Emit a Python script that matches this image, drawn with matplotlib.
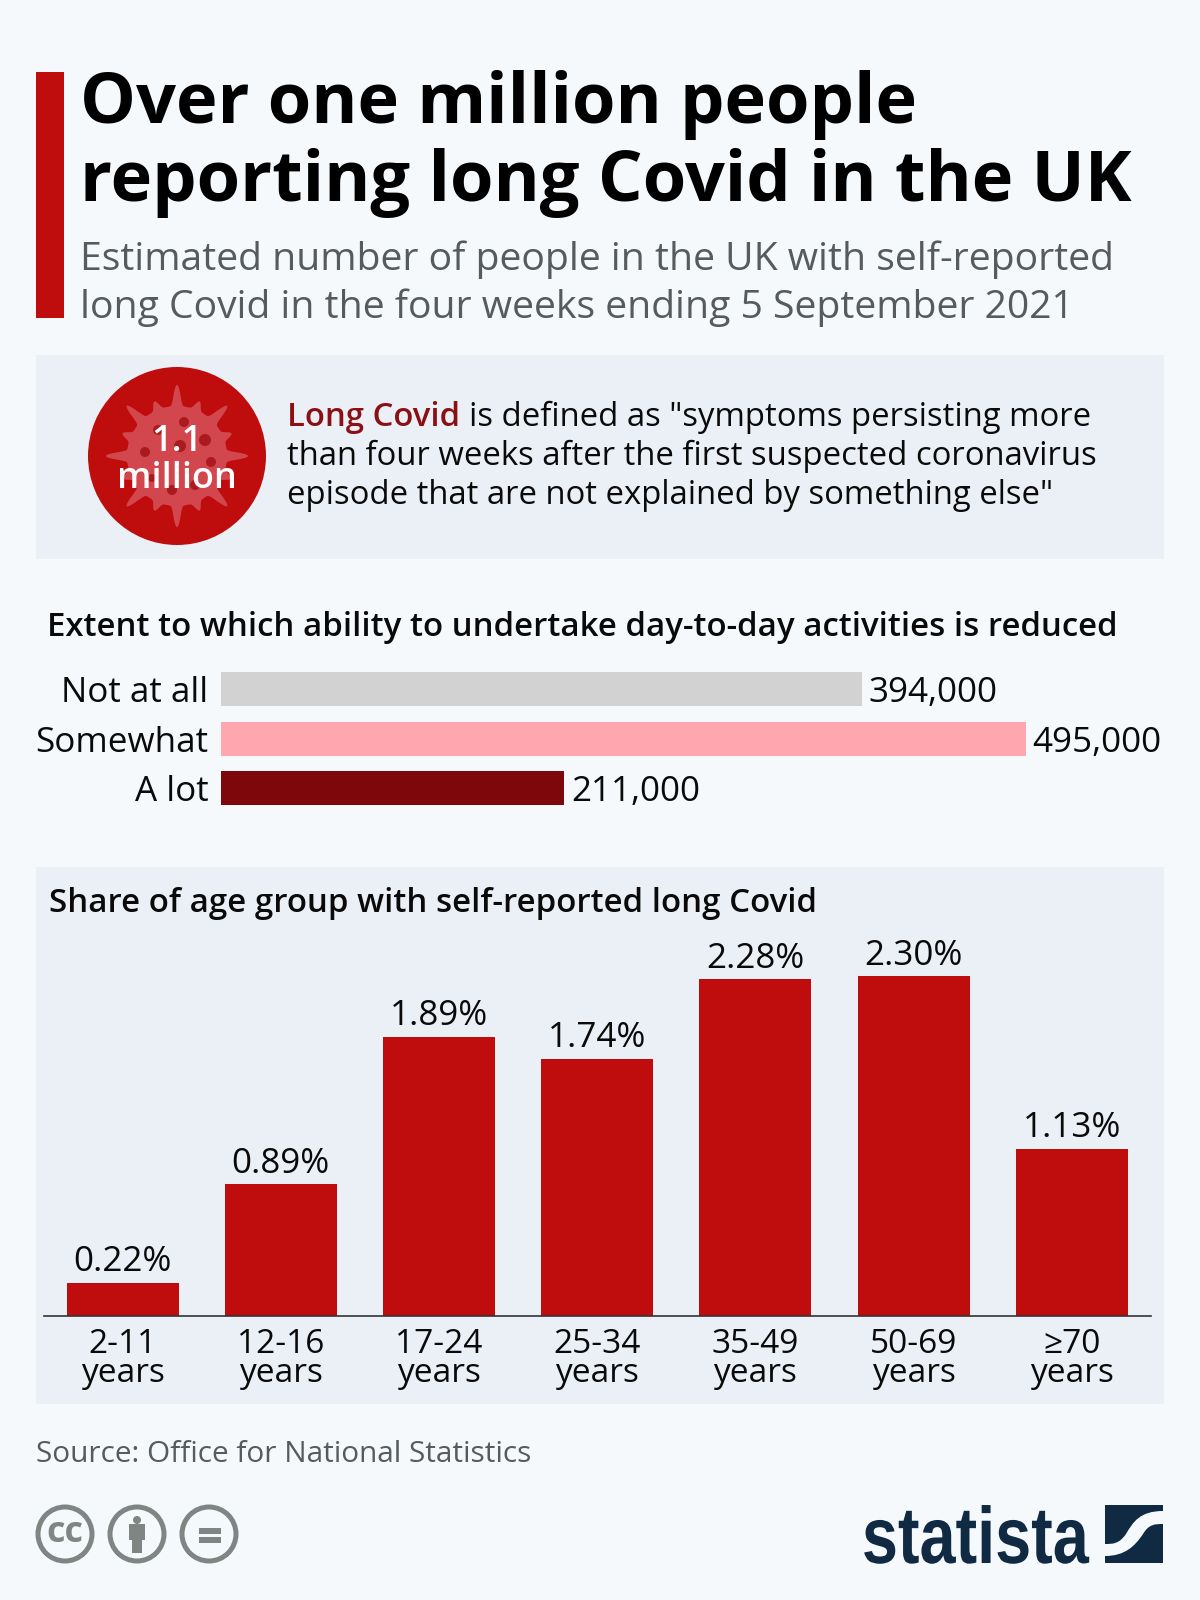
import numpy as np
import matplotlib
matplotlib.use('Agg')
import matplotlib.pyplot as plt
import matplotlib.patheffects as pe
from matplotlib.patches import Rectangle, Circle, Polygon, PathPatch
from matplotlib.path import Path
from matplotlib.transforms import Affine2D

# data
extent_labels = ['Not at all', 'Somewhat', 'A lot']
extent_values = [394000, 495000, 211000]
extent_colors = ['#d2d2d2', '#ffa6ae', '#7e070b']

age_labels = ['2-11\nyears', '12-16\nyears', '17-24\nyears', '25-34\nyears',
              '35-49\nyears', '50-69\nyears', '≥70\nyears']
age_values = [0.22, 0.89, 1.89, 1.74, 2.28, 2.30, 1.13]

title_lines = ['Over one million people', 'reporting long Covid in the UK']
sub_lines = ['Estimated number of people in the UK with self-reported',
             'long Covid in the four weeks ending 5 September 2021']
def_lines = ['is defined as "symptoms persisting more',
             'than four weeks after the first suspected coronavirus',
             'episode that are not explained by something else"']

BG = '#f5f9fc'
PANEL = '#ebf0f6'
RED = '#bf0d0e'
INK = '#0a0a0a'
GREY = '#7f8583'
NAVY = '#0f2a42'

plt.rcParams['font.family'] = ['Open Sans', 'DejaVu Sans']

fig = plt.figure(figsize=(12, 16), dpi=100, facecolor=BG)

# pixel canvas for everything around the charts
bg = fig.add_axes([0, 0, 1, 1])
bg.set_xlim(0, 1200)
bg.set_ylim(1600, 0)
bg.axis('off')


def px(p):
    return p * 0.72


# squeezes a text sideways around a fixed pixel column, the logo is a narrow cut
class SqueezeX(pe.AbstractPathEffect):
    def __init__(self, x0, sx):
        self.x0 = x0
        self.sx = sx

    def draw_path(self, renderer, gc, tpath, affine, rgbFace=None):
        squeeze = Affine2D().translate(-self.x0, 0).scale(self.sx, 1).translate(self.x0, 0)
        renderer.draw_path(gc, tpath, affine + squeeze, rgbFace)


bg.add_patch(Rectangle((36, 72), 28, 246, color=RED, lw=0))
bg.add_patch(Rectangle((36, 355), 1128, 204, color=PANEL, lw=0))
bg.add_patch(Rectangle((36, 867), 1128, 537, color=PANEL, lw=0))

for line, y in zip(title_lines, [123.5, 201]):
    bg.text(80, y, line, fontsize=px(70.4), fontweight='bold', color='black', va='baseline')
for line, y in zip(sub_lines, [270, 318]):
    bg.text(80, y, line, fontsize=px(39.1), color='#565b5d', va='baseline')

# virus badge
cx, cy = 177, 456
bg.add_patch(Circle((cx, cy), 89, color=RED, lw=0))
ang = np.linspace(0, 2 * np.pi, 1441)
rad = (50 + 21 * np.clip(np.cos(ang * 8), 0, 1) ** 6
       + 9 * np.clip(np.cos(ang * 8 + np.pi), 0, 1) ** 6)
bg.add_patch(Polygon(np.c_[cx + rad * np.cos(ang), cy + rad * np.sin(ang)], color='#d2474d', lw=0))
for dx, dy, r in [(7, -34, 5), (-19, -26, 5), (28, -16, 6), (-32, -4, 5), (34, 6, 5), (3, -10, 6),
                  (-5, 34, 5), (18, 29, 5), (-25, 22, 4)]:
    bg.add_patch(Circle((cx + dx, cy + dy), r, color='#ab1a1f', lw=0))
bg.text(cx, 451, '1.1', fontsize=px(36), fontweight='semibold', color='white', ha='center', va='baseline')
bg.text(cx, 488, 'million', fontsize=px(36), fontweight='semibold', color='white', ha='center', va='baseline')

# definition text, coloured lead-in then the rest
lead = bg.text(287, 426, 'Long Covid', fontsize=px(32.9), fontweight='semibold', color='#8b1014', va='baseline')
fig.canvas.draw()
lead_end = bg.transData.inverted().transform(lead.get_window_extent().get_points())[1][0]
bg.text(lead_end + 9, 426, def_lines[0], fontsize=px(32.9), color=INK, va='baseline')
bg.text(287, 465, def_lines[1], fontsize=px(32.9), color=INK, va='baseline')
bg.text(287, 504, def_lines[2], fontsize=px(32.9), color=INK, va='baseline')

bg.text(47, 636, 'Extent to which ability to undertake day-to-day activities is reduced',
        fontsize=px(33), fontweight='semibold', color=INK, va='baseline')
bg.text(49, 912, 'Share of age group with self-reported long Covid',
        fontsize=px(33), fontweight='semibold', color=INK, va='baseline')

bg.text(36, 1462, 'Source: Office for National Statistics', fontsize=px(29.75), color='#565b5d', va='baseline')

# licence icons
for x in [65, 137, 209]:
    bg.add_patch(Circle((x, 1534), 27, fc='none', ec=GREY, lw=3.6))
bg.text(65, 1533, 'cc', fontsize=px(36), fontweight='bold', color=GREY, ha='center', va='center')
bg.add_patch(Circle((137, 1520), 4, color=GREY, lw=0))
bg.add_patch(Rectangle((129, 1524), 16, 16, color=GREY, lw=0))
bg.add_patch(Rectangle((132, 1540), 10, 13, color=GREY, lw=0))
bg.add_patch(Rectangle((199, 1528), 22, 5.5, color=GREY, lw=0))
bg.add_patch(Rectangle((199, 1537), 22, 5.5, color=GREY, lw=0))

# statista logo
bg.text(1089, 1563, 'statista', fontsize=px(80), fontweight='bold', color=NAVY, ha='right', va='baseline',
        family=['Liberation Sans'], path_effects=[SqueezeX(1089, 0.81)])
bg.add_patch(Rectangle((1105, 1505), 58, 58, color=NAVY, lw=0))
wave = Path([(1163, 1511), (1140, 1511), (1133, 1522), (1126, 1534), (1119, 1544), (1113, 1544), (1105, 1544),
             (1105, 1556), (1125, 1556), (1135, 1546), (1143, 1534), (1149, 1524), (1155, 1524), (1163, 1524),
             (1163, 1511)],
            [Path.MOVETO, Path.CURVE4, Path.CURVE4, Path.CURVE4, Path.CURVE4, Path.CURVE4, Path.CURVE4,
             Path.LINETO, Path.CURVE4, Path.CURVE4, Path.CURVE4, Path.CURVE4, Path.CURVE4, Path.CURVE4,
             Path.CLOSEPOLY])
bg.add_patch(PathPatch(wave, fc=BG, ec='none'))

# horizontal bars
ax1 = fig.add_axes([221 / 1200, 1 - 816 / 1600, 943 / 1200, 165 / 1600])
ax1.patch.set_alpha(0)
y1 = np.arange(len(extent_values))
ax1.barh(y1, extent_values, height=0.69, color=extent_colors)
ax1.set_xlim(0, 943 / 805 * 495000)
ax1.set_ylim(2.57, -0.78)
ax1.set_yticks(y1, extent_labels)
ax1.set_xticks([])
ax1.tick_params(axis='y', length=0, pad=9, labelsize=px(35), labelcolor=INK)
for s in ax1.spines.values():
    s.set_visible(False)
for y, v in zip(y1, extent_values):
    ax1.annotate(f'{v:,}', (v, y), xytext=(4.8, 0), textcoords='offset points', fontsize=px(35),
                 color=INK, va='center_baseline')

# age columns
ax2 = fig.add_axes([44 / 1200, 1 - 1315.5 / 1600, 1107 / 1200, 365 / 1600])
ax2.patch.set_alpha(0)
x2 = np.arange(len(age_values))
ax2.bar(x2, age_values, width=112 / 158.2, color=RED)
ax2.set_xlim(-(122.5 - 44) / 158.2, (1151 - 122.5) / 158.2)
ax2.set_ylim(0, 365 / 147.4)
ax2.set_xticks(x2, age_labels)
ax2.set_yticks([])
ax2.tick_params(axis='x', length=0, pad=9, labelsize=px(33.5), labelcolor=INK)
for lab in ax2.get_xticklabels():
    lab.set_linespacing(0.86)
for s in ['top', 'left', 'right']:
    ax2.spines[s].set_visible(False)
ax2.spines['bottom'].set_color('#333333')
ax2.spines['bottom'].set_linewidth(1.2)
for x, v in zip(x2, age_values):
    ax2.annotate(f'{v:.2f}%', (x, v), xytext=(0, 2.7), textcoords='offset points', fontsize=px(35),
                 color=INK, ha='center', va='bottom')

fig.savefig('out.png', dpi=100, facecolor=BG)
